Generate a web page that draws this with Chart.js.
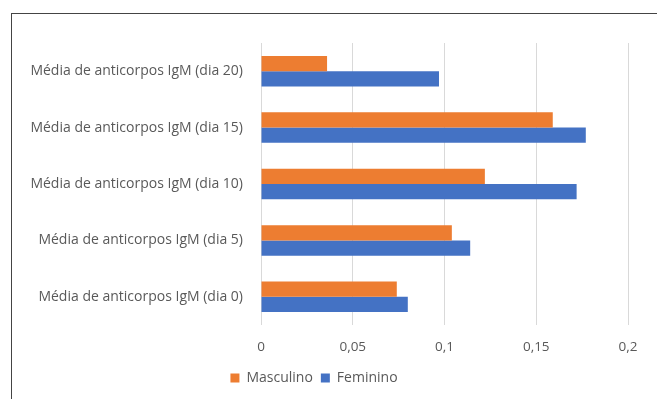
<!DOCTYPE html>
<html>
<head>
<meta charset="utf-8">
<script src="https://cdn.jsdelivr.net/npm/chart.js@4.4.0/dist/chart.umd.min.js"></script>
<style>
  html, body { margin:0; padding:0; background:#fff; }
  #wrap { position:relative; width:657px; height:399px; overflow:hidden; }
  #frame { position:absolute; left:11px; top:13px; width:700px; height:450px; border:1px solid #444; box-sizing:border-box; pointer-events:none; }
  canvas { position:absolute; left:0; top:0; }
</style>
</head>
<body>
<div id="wrap">
  <canvas id="chart" width="657" height="399"></canvas>
  <div id="frame"></div>
</div>
<script>
// categorias (de cima para baixo) e médias por sexo
const categorias = [
  'Média de anticorpos IgM (dia 20)',
  'Média de anticorpos IgM (dia 15)',
  'Média de anticorpos IgM (dia 10)',
  'Média de anticorpos IgM (dia 5)',
  'Média de anticorpos IgM (dia 0)'
];
const masculino = [0.036, 0.159, 0.122, 0.104, 0.074];
const feminino  = [0.097, 0.177, 0.172, 0.114, 0.080];
const xTicks = [0, 0.05, 0.1, 0.15, 0.2];

const FONT = '"Open Sans", Lato, sans-serif';
const GRAY = '#595959';

new Chart(document.getElementById('chart'), {
  type: 'bar',
  data: {
    labels: categorias,
    datasets: [
      { label:'Masculino', data:masculino, backgroundColor:'#ED7D31', barPercentage:1, categoryPercentage:0.54 },
      { label:'Feminino',  data:feminino,  backgroundColor:'#4472C4', barPercentage:1, categoryPercentage:0.54 }
    ]
  },
  options: {
    indexAxis: 'y',
    responsive: false,
    animation: false,
    layout: { padding: { left:0, right:29, top:43, bottom:4 } },
    plugins: {
      legend: {
        position: 'bottom',
        labels: { font:{ family:FONT, size:14 }, color:GRAY, boxWidth:9, boxHeight:9, padding:8 }
      },
      tooltip: { enabled:false }
    },
    scales: {
      x: {
        min: 0, max: 0.2,
        afterBuildTicks: s => { s.ticks = xTicks.map(v => ({ value:v })); },
        afterFit: s => { s.height = 38; },
        grid: { color:'#d9d9d9', drawTicks:false },
        border: { display:false },
        ticks: {
          padding: 14,
          font: { family:FONT, size:13.5 }, color:GRAY,
          callback: v => String(v).replace('.', ',')
        }
      },
      y: {
        afterFit: s => { s.width = 261; },
        grid: { display:false },
        border: { display:false },
        ticks: { padding:10, font:{ family:FONT, size:14 }, color:GRAY }
      }
    }
  }
});
</script>
</body>
</html>
